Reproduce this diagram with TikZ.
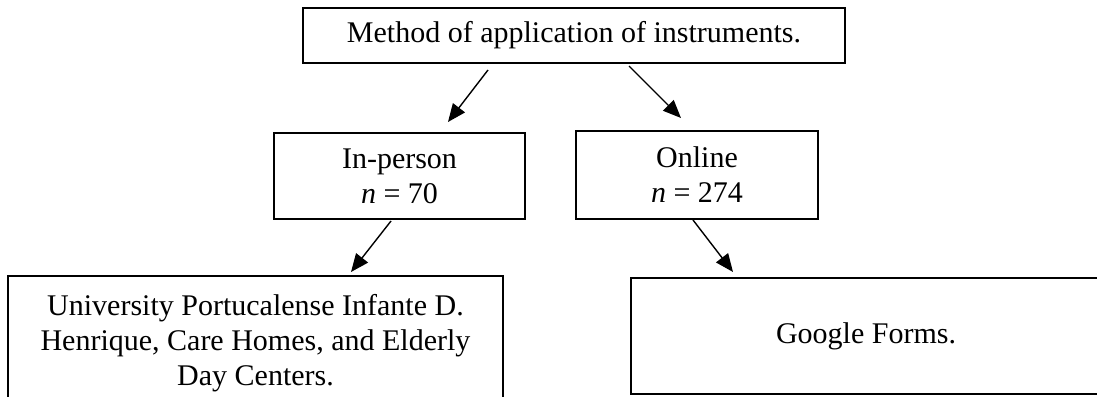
\documentclass[tikz,border=0pt]{standalone}
\usepackage{fontspec}
\setmainfont{Liberation Serif}
\usetikzlibrary{arrows.meta}
\begin{document}
\begin{tikzpicture}[x=1pt,y=-1pt,
  boxnode/.style={draw=black,line width=1.8pt,inner sep=0pt,align=center,
    font=\fontsize{30}{35}\selectfont},
  arr/.style={line width=1.4pt,-{Triangle[length=18pt,width=15pt]}}]
\useasboundingbox (0,0) rectangle (1097,396);
\clip (0,0) rectangle (1097,396);
\node[boxnode,minimum width=542pt,minimum height=55pt] (top) at (574,35.5) {Method of application of instruments.};
\node[boxnode,minimum width=251pt,minimum height=86pt] (inperson) at (399.5,176) {In-person\\\textit{n} = 70};
\node[boxnode,minimum width=242pt,minimum height=88pt] (online) at (697,175) {Online\\\textit{n} = 274};
\node[boxnode,minimum width=495pt,minimum height=134pt] (uni) at (255.5,343) {University Portucalense Infante D.\\Henrique, Care Homes, and Elderly\\Day Centers.};
\node[boxnode,minimum width=470pt,minimum height=116pt] (google) at (866,336) {Google Forms.};
\coordinate (a1s) at (488,70);
\coordinate (a1e) at (448,122);
\coordinate (a2s) at (629,66);
\coordinate (a2e) at (681,118);
\coordinate (a3s) at (391,221);
\coordinate (a3e) at (351,272);
\coordinate (a4s) at (693,220);
\coordinate (a4e) at (733,272);
\draw[arr] (a1s) -- (a1e);
\draw[arr] (a2s) -- (a2e);
\draw[arr] (a3s) -- (a3e);
\draw[arr] (a4s) -- (a4e);
\end{tikzpicture}
\end{document}
